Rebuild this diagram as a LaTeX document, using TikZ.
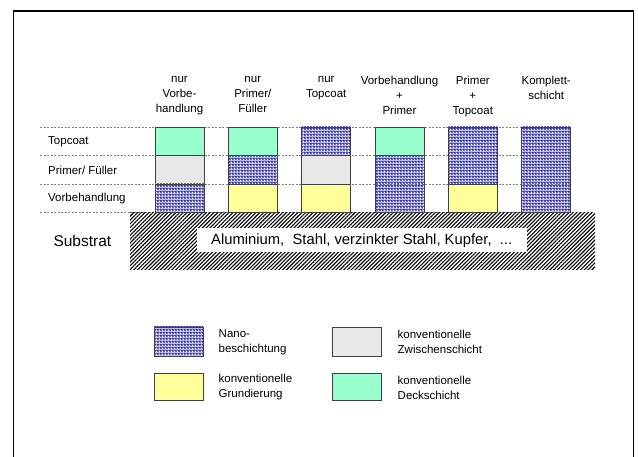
\documentclass[tikz,border=0pt]{standalone}
\usepackage{fontspec}
\setmainfont{Liberation Sans}
\usetikzlibrary{patterns, patterns.meta}
\definecolor{deckgreen}{RGB}{153, 255, 204}
\definecolor{zwischengrey}{RGB}{232, 232, 232}
\definecolor{grundyellow}{RGB}{255, 255, 153}
\definecolor{nanomid}{RGB}{104, 104, 200}
\definecolor{nanodark}{RGB}{45, 45, 140}
\definecolor{nanolight}{RGB}{245, 245, 255}
% dotted blue fill of the nano layers
\pgfdeclarepatterninherentlycolored{nano}{\pgfpointorigin}{\pgfqpoint{3pt}{3pt}}{\pgfqpoint{3pt}{3pt}}{
  \pgfsetfillcolor{nanomid}
  \pgfpathrectangle{\pgfpointorigin}{\pgfqpoint{3pt}{3pt}}\pgfusepath{fill}
  \pgfsetfillcolor{nanolight}
  \pgfpathrectangle{\pgfpointorigin}{\pgfqpoint{1.3pt}{1.3pt}}\pgfusepath{fill}
  \pgfsetfillcolor{nanodark}
  \pgfpathrectangle{\pgfqpoint{1.5pt}{1.5pt}}{\pgfqpoint{1.2pt}{1.2pt}}\pgfusepath{fill}
}

\begin{document}
\begin{tikzpicture}[x=1pt, y=-1pt,
    lbl/.style={font=\fontsize{11.5}{15}\selectfont, inner sep=3pt},
    cell/.style={draw=black!75, line width=0.7pt},
    nanocell/.style={cell, pattern=nano},
    rowline/.style={gray, line width=0.6pt, dash pattern=on 2pt off 1.5pt}]
        \useasboundingbox (0,0) rectangle (638,457);
        \fill[white] (0,0) rectangle (638,457);
        \draw[line width=1.6pt] (13.5,457) -- (13.5,11) -- (633.5,11) -- (633.5,457);

        % Layer borders
        \foreach \y in {127,155.5,184,212.5}
            \draw[rowline] (40,\y) -- (572,\y);
        \node[lbl, anchor=west] (topcoat) at (45,142) {Topcoat};
        \node[lbl, anchor=west] (primer) at (45,170.5) {Primer/ Füller};
        \node[lbl, anchor=west] (vorbeh) at (45,199) {Vorbehandlung};

        % Substrate
        \fill[pattern={Lines[angle=45, distance=2.7pt, line width=1.1pt]}] (130,212.5) rectangle (595,270);
        \node[font=\fontsize{15.5}{18}\selectfont, anchor=west] (substrat) at (50,241) {Substrat};
        \node[fill=white, minimum width=330pt, minimum height=24pt, inner sep=0pt,
              font=\fontsize{14.8}{17}\selectfont] (metalle) at (361.7,240.5)
              {Aluminium,\ \ Stahl,\ verzinkter Stahl,\ Kupfer,\ \ ...};

        % Column headers
        \node[lbl, align=center, anchor=north] (h1) at (179.5,73) {nur\\Vorbe-\\handlung};
        \node[lbl, align=center, anchor=north] (h2) at (252.8,73) {nur\\Primer/\\Füller};
        \node[lbl, align=center, anchor=north] (h3) at (326.2,73) {nur\\Topcoat};
        \node[lbl, align=center, anchor=north] (h4) at (399.5,73) {Vorbehandlung\\+\\Primer};
        \node[lbl, align=center, anchor=north] (h5) at (472.8,73) {Primer\\+\\Topcoat};
        \node[lbl, align=center, anchor=north] (h6) at (546.2,73) {Komplett-\\schicht};

        % nur Vorbehandlung
        \draw[cell, fill=deckgreen] (155,127) rectangle +(49,28.5);
        \draw[cell, fill=zwischengrey] (155,155.5) rectangle +(49,28.5);
        \draw[nanocell] (155,184) rectangle +(49,28.5);
        % nur Primer/Fueller
        \draw[cell, fill=deckgreen] (228.3,127) rectangle +(49,28.5);
        \draw[nanocell] (228.3,155.5) rectangle +(49,28.5);
        \draw[cell, fill=grundyellow] (228.3,184) rectangle +(49,28.5);
        % nur Topcoat
        \draw[nanocell] (301.7,127) rectangle +(49,28.5);
        \draw[cell, fill=zwischengrey] (301.7,155.5) rectangle +(49,28.5);
        \draw[cell, fill=grundyellow] (301.7,184) rectangle +(49,28.5);
        % Vorbehandlung + Primer
        \draw[cell, fill=deckgreen] (375,127) rectangle +(49,28.5);
        \draw[nanocell] (375,155.5) rectangle +(49,57);
        % Primer + Topcoat
        \draw[nanocell] (448.3,127) rectangle +(49,57);
        \draw[cell, fill=grundyellow] (448.3,184) rectangle +(49,28.5);
        % Komplettschicht
        \draw[nanocell] (521.7,127) rectangle +(49,85.5);

        % Legend
        \draw[nanocell] (154,327) rectangle (203,356);
        \node[lbl, anchor=west, align=left] (leg1) at (215.5,342) {Nano-\\beschichtung};
        \draw[cell, fill=zwischengrey] (332.7,327) rectangle (381.7,356.5);
        \node[lbl, anchor=west, align=left] (leg2) at (394.5,342) {konventionelle\\Zwischenschicht};
        \draw[cell, fill=grundyellow] (154,373) rectangle (203,400.5);
        \node[lbl, anchor=west, align=left] (leg3) at (215.5,387.5) {konventionelle\\Grundierung};
        \draw[cell, fill=deckgreen] (332.7,373) rectangle (381.7,400.5);
        \node[lbl, anchor=west, align=left] (leg4) at (394.5,387.5) {konventionelle\\Deckschicht};
    \end{tikzpicture}
\end{document}
